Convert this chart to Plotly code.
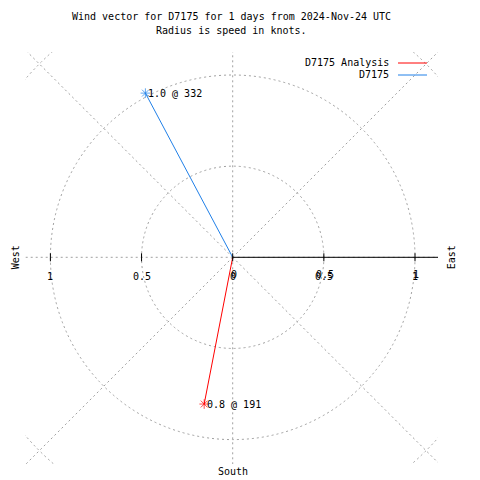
import numpy as np
import plotly.graph_objects as go

# ---- data ----
series_names = ["D7175 Analysis", "D7175"]
speeds_kt = [0.82, 1.02]
directions_deg = [191, 332]
series_colors = ["#ff0000", "#2080e8"]
ring_radii = [0.5, 1.0, 1.5]
radial_angles = [0, 45, 90, 135, 180, 225, 270, 315]
tick_values = [-1.0, -0.5, 0.0, 0.5, 1.0]
tick_labels = ["1", "0.5", "0", "0.5", "1"]
title_lines = ["Wind vector for D7175 for 1 days from 2024-Nov-24 UTC",
               "Radius is speed in knots."]

# ---- pixel layout helpers ----
W = H = 480
L, R, T, B = 25, 438, 52, 464
CX, CY, S = 232.7, 257.3, 182.3
def px2x(px): return (px - CX) / S
def py2y(py): return (CY - py) / S
def px2p(px): return (px - L) / (R - L)
def py2p(py): return (B - py) / (B - T)

FONT = "DejaVu Sans Mono"
GRID = "#a0a0a0"
DASH = "2px,3px"
TXT = dict(family=FONT, size=10, color="black")

fig = go.Figure()
shapes = []
annotations = []

# grid circles
for r in ring_radii:
    shapes.append(dict(type="circle", xref="x", yref="y", x0=-r, x1=r, y0=-r, y1=r,
                       line=dict(color=GRID, width=1, dash=DASH), layer="below"))
# radial grid lines
for a in radial_angles:
    t = np.deg2rad(a)
    shapes.append(dict(type="line", xref="x", yref="y", x0=0, y0=0,
                       x1=3 * np.cos(t), y1=3 * np.sin(t),
                       line=dict(color=GRID, width=1, dash=DASH), layer="below"))
# solid r-axis to the east
shapes.append(dict(type="line", xref="x", yref="y", x0=0, y0=0, x1=3, y1=0,
                   line=dict(color="black", width=1)))
# ticks on horizontal axis
for v in tick_values:
    shapes.append(dict(type="line", xref="x", yref="y", x0=v, x1=v,
                       y0=-4 / S, y1=4 / S, line=dict(color="black", width=1)))

# tick labels (left set + doubled right set)
for v, lab in zip(tick_values, tick_labels):
    annotations.append(dict(x=v, y=0, xref="x", yref="y", text=lab, showarrow=False,
                            yshift=-19, font=TXT))
    if v >= 0:
        annotations.append(dict(x=v, y=0, xref="x", yref="y", text=lab, showarrow=False,
                                yshift=-17, xshift=1, font=TXT))

# vectors
for name, spd, d, col in zip(series_names, speeds_kt, directions_deg, series_colors):
    t = np.deg2rad(d)
    xe, ye = spd * np.sin(t), spd * np.cos(t)
    fig.add_trace(go.Scatter(x=[0, xe], y=[0, ye], mode="lines+markers",
                             line=dict(color=col, width=1),
                             marker=dict(symbol="asterisk-open", size=[0, 8],
                                         color=col, line=dict(color=col, width=1)),
                             name=name, showlegend=False, cliponaxis=False,
                             hoverinfo="skip"))
    annotations.append(dict(x=xe, y=ye, xref="x", yref="y", text=f"{spd:.1f} @ {d}",
                            showarrow=False, xanchor="left", xshift=1, font=TXT))

# manual legend
for i, (name, col) in enumerate(zip(series_names, series_colors)):
    yy = py2p(63 + 12 * i)
    annotations.append(dict(x=px2p(391), y=yy, xref="paper", yref="paper", text=name,
                            showarrow=False, xanchor="right", yanchor="middle", font=TXT))
    shapes.append(dict(type="line", xref="paper", yref="paper", x0=px2p(398), x1=px2p(427),
                       y0=yy, y1=yy, line=dict(color=col, width=1)))

# compass labels
annotations.append(dict(x=px2p(15), y=py2p(CY), xref="paper", yref="paper", text="West",
                        textangle=-90, showarrow=False, xanchor="center", yanchor="middle",
                        font=TXT))
annotations.append(dict(x=px2p(451), y=py2p(CY), xref="paper", yref="paper", text="East",
                        textangle=-90, showarrow=False, xanchor="center", yanchor="middle",
                        font=TXT))
annotations.append(dict(x=px2p(CX), y=py2p(471), xref="paper", yref="paper", text="South",
                        showarrow=False, xanchor="center", yanchor="middle", font=TXT))

# title
for i, line in enumerate(title_lines):
    annotations.append(dict(x=px2p(231), y=py2p(17 + 13 * i), xref="paper", yref="paper",
                            text=line, showarrow=False, xanchor="center", yanchor="middle",
                            font=TXT))

fig.update_layout(
    width=W, height=H, margin=dict(l=L, r=W - R, t=T, b=H - B),
    paper_bgcolor="white", plot_bgcolor="white",
    xaxis=dict(range=[px2x(L), px2x(R)], visible=False, showgrid=False, zeroline=False,
               fixedrange=True),
    yaxis=dict(range=[py2y(B), py2y(T)], visible=False, showgrid=False, zeroline=False,
               fixedrange=True),
    shapes=shapes, annotations=annotations, showlegend=False, hovermode=False,
)
fig.write_html("out.html", config={"displayModeBar": False},
               post_script="document.body.style.margin='0';")
